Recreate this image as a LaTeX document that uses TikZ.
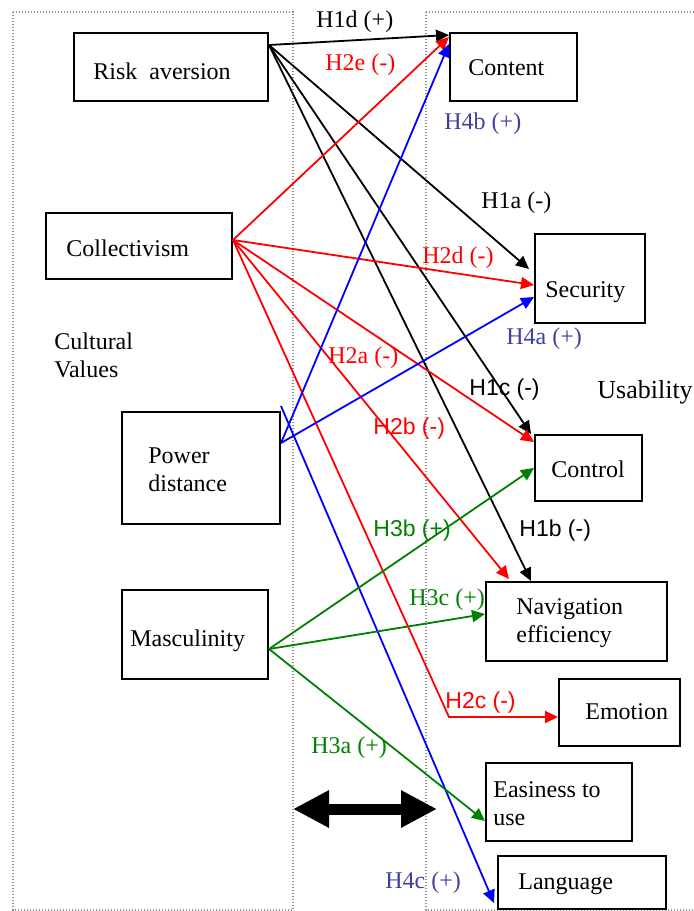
\documentclass[tikz,border=0pt]{standalone}
\usepackage{fontspec}
\setmainfont{Liberation Serif}
\newfontfamily\arialfont{Liberation Sans}
\usetikzlibrary{arrows.meta,fit,calc}
\definecolor{hred}{RGB}{255,0,0}
\definecolor{hgreen}{RGB}{0,128,0}
\definecolor{hblue}{RGB}{0,0,255}
\definecolor{lblue}{RGB}{64,64,160}
\definecolor{dotgray}{RGB}{140,140,140}
\begin{document}
\begin{tikzpicture}[x=0.5pt,y=-0.5pt,
  box/.style={draw=black,line width=1pt,inner sep=0pt,fit={#1}},
  txt/.style={anchor=west,inner sep=0pt,align=left,font=\fontsize{12}{14}\selectfont},
  hyp/.style={anchor=west,inner sep=0pt,font=\fontsize{12}{14}\selectfont},
  hyps/.style={anchor=west,inner sep=0pt,font=\arialfont\fontsize{11.5}{14}\selectfont},
  conn/.style={line width=0.9pt,-{Triangle[length=6.5pt,width=6pt]}},
  frame/.style={draw=dotgray,line width=0.6pt,dash pattern=on 0.6pt off 0.9pt},
  bigarrow/.style={line width=5.5pt,{Triangle[length=18pt,width=17.5pt]}-{Triangle[length=18pt,width=17.5pt]}},
]
\useasboundingbox (0,0) rectangle (694,911);
\clip (0,0) rectangle (694,911);
% frames
\draw[frame] (13,12) rectangle (293,910);
\draw[frame] (426,12) rectangle (730,910);
% left boxes
\node[box={(74,33) (268,101)}] (risk) {};
\node[box={(46,213) (232,279)}] (coll) {};
\node[box={(122,412) (280,524)}] (pd) {};
\node[box={(122,590) (268,679)}] (masc) {};
% right boxes
\node[box={(450,33) (577,101)}] (content) {};
\node[box={(535,234) (645,323)}] (security) {};
\node[box={(535,435) (642,501)}] (control) {};
\node[box={(486,582) (667,661)}] (nav) {};
\node[box={(559,679) (680,746)}] (emotion) {};
\node[box={(486,763) (632,841)}] (easy) {};
\node[box={(498,856) (666,909)}] (lang) {};
% texts
\node[txt] (trisk) at (93,71) {Risk~~aversion};
\node[txt] (tcoll) at (66,248) {Collectivism};
\node[txt] (tcult) at (54,355) {Cultural\\Values};
\node[txt] (tpd) at (148,470) {Power\\distance};
\node[txt] (tmasc) at (130,641) {Masculinity};
\node[txt] (tcontent) at (468,68) {Content};
\node[txt] (tsecurity) at (545,292) {Security};
\node[txt] (tcontrol) at (551,469) {Control};
\node[txt] (tnav) at (516,623) {Navigation\\efficiency};
\node[txt] (temotion) at (585,712) {Emotion};
\node[txt] (teasy) at (493,804) {Easiness to\\use};
\node[txt] (tlang) at (518,884) {Language};
\node[txt,font=\fontsize{13}{15}\selectfont] (tusab) at (597,392) {Usability};
% start points
\coordinate (ra) at ($(risk.north east)+(0,13)$);
\coordinate (ca) at ($(coll.east)+(0,-6)$);
\coordinate (pa) at ($(pd.north east)+(0,32)$);
\coordinate (pb) at ($(pd.north east)+(0,-5)$);
\coordinate (ma) at ($(masc.north east)+(0,60)$);
\coordinate (bend) at (449,717);
% black connectors
\draw[conn,black] (ra) -- ($(content.north west)+(0,3)$);
\draw[conn,black] (ra) -- ($(security.north west)+(-5,36)$);
\draw[conn,black] (ra) -- ($(control.north west)+(-3,0)$);
\draw[conn,black] (ra) -- ($(nav.north west)+(46,0)$);
% red connectors
\draw[conn,hred] (ca) -- ($(content.north west)+(0,5)$);
\draw[conn,hred] (ca) -- ($(security.north west)+(0,52)$);
\draw[conn,hred] (ca) -- ($(control.north west)+(0,8)$);
\draw[conn,hred] (ca) -- ($(nav.north west)+(24,-2)$);
\draw[conn,hred] (ca) -- (bend) -- (emotion.west |- bend);
% blue connectors
\draw[conn,hblue] (pa) -- ($(content.north west)+(0,12)$);
\draw[conn,hblue] (pa) -- ($(security.north west)+(0,64)$);
\draw[conn,hblue] (pb) -- ($(lang.south west)+(-3,-7)$);
% green connectors
\draw[conn,hgreen] (ma) -- (control.west);
\draw[conn,hgreen] (ma) -- ($(nav.north west)+(0,33)$);
\draw[conn,hgreen] (ma) -- ($(easy.south west)+(0,-21)$);
% big double arrow
\coordinate (dl) at (293,809);
\coordinate (dr) at (437,809);
\draw[bigarrow] (dl) -- (dr);
% hypothesis labels
\node[hyp,black] (h1d) at (316,22) {H1d (+)};
\node[hyp,hred] (h2e) at (325,65) {H2e (-)};
\node[hyp,lblue] (h4b) at (444,124) {H4b (+)};
\node[hyp,black] (h1a) at (481,203) {H1a (-)};
\node[hyp,hred] (h2d) at (422,258) {H2d (-)};
\node[hyp,lblue] (h4a) at (506,339) {H4a (+)};
\node[hyp,hred] (h2a) at (328,358) {H2a (-)};
\node[hyps,black] (h1c) at (469,390) {H1c (-)};
\node[hyps,hred] (h2b) at (373,429) {H2b (-)};
\node[hyps,black] (h1b) at (519,531) {H1b (-)};
\node[hyps,hgreen] (h3b) at (373,531) {H3b (+)};
\node[hyp,hgreen] (h3c) at (409,600) {H3c (+)};
\node[hyps,hred] (h2c) at (445,703) {H2c (-)};
\node[hyp,hgreen] (h3a) at (311,748) {H3a (+)};
\node[hyp,lblue] (h4c) at (385,883) {H4c (+)};
\end{tikzpicture}
\end{document}
